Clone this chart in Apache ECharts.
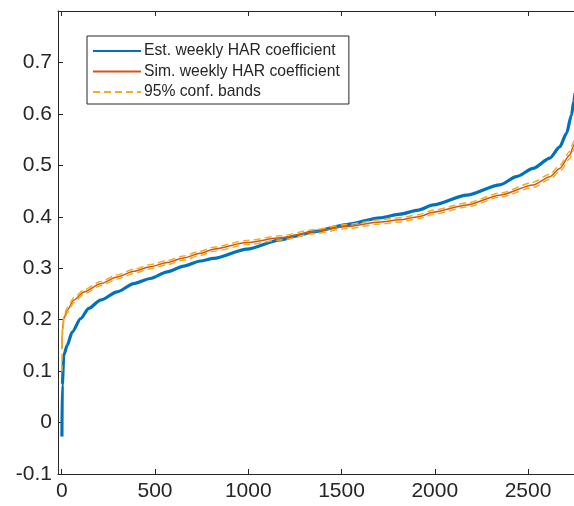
<!DOCTYPE html>
<html>
<head>
<meta charset="utf-8">
<script src="https://cdn.jsdelivr.net/npm/echarts@6/dist/echarts.min.js"></script>
<style>
  html, body { margin: 0; padding: 0; background: #fff; overflow: hidden; }
  #chart { width: 600px; height: 506px; }
</style>
</head>
<body>
<div id="chart"></div>
<script>
// Sorted estimated weekly HAR coefficients (rank index, value)
const estIndex = [1, 3, 11, 29, 56, 101, 145, 208, 297, 386, 475, 565, 654, 743, 814, 993, 1171, 1261, 1350, 1528, 1707, 1814, 1912, 1992, 2171, 2349, 2438, 2527, 2617, 2670, 2706, 2733, 2745, 2752];
const estValues = [-0.027, 0.073, 0.131, 0.150, 0.176, 0.202, 0.222, 0.238, 0.254, 0.270, 0.280, 0.293, 0.304, 0.314, 0.319, 0.337, 0.355, 0.363, 0.371, 0.385, 0.398, 0.405, 0.413, 0.423, 0.442, 0.462, 0.478, 0.494, 0.514, 0.536, 0.562, 0.598, 0.624, 0.640];

// Simulated weekly HAR coefficient and its 95% confidence bands
const simIndex = [1, 3, 11, 29, 65, 119, 208, 297, 386, 475, 565, 654, 743, 814, 993, 1171, 1350, 1528, 1707, 1814, 1912, 1992, 2171, 2349, 2527, 2617, 2670, 2724, 2742, 2752];
const simValues = [0.144, 0.176, 0.202, 0.218, 0.238, 0.254, 0.270, 0.283, 0.294, 0.303, 0.311, 0.320, 0.329, 0.337, 0.350, 0.359, 0.371, 0.381, 0.390, 0.394, 0.400, 0.409, 0.423, 0.442, 0.462, 0.478, 0.494, 0.520, 0.536, 0.546];
const bandUpper = [0.150, 0.183, 0.207, 0.223, 0.243, 0.258, 0.274, 0.287, 0.298, 0.307, 0.315, 0.324, 0.333, 0.341, 0.354, 0.363, 0.375, 0.385, 0.394, 0.398, 0.404, 0.413, 0.427, 0.446, 0.467, 0.483, 0.500, 0.527, 0.544, 0.555];
const bandLower = [0.099, 0.165, 0.196, 0.213, 0.233, 0.250, 0.266, 0.279, 0.290, 0.299, 0.307, 0.316, 0.325, 0.333, 0.346, 0.355, 0.367, 0.377, 0.386, 0.390, 0.396, 0.405, 0.419, 0.438, 0.457, 0.473, 0.488, 0.513, 0.528, 0.537];

// Axis ticks
const xTicks = [0, 500, 1000, 1500, 2000, 2500];
const yTicks = [-0.1, 0, 0.1, 0.2, 0.3, 0.4, 0.5, 0.6, 0.7];

const pair = (xs, ys) => xs.map((x, i) => [x, ys[i]]);

const axisColor = '#262626';
const font = 'Liberation Sans, Arial, Helvetica, sans-serif';

const chart = echarts.init(document.getElementById('chart'), null, { renderer: 'canvas' });

const lineBase = { type: 'line', showSymbol: false, symbol: 'none', smooth: 0.25, smoothMonotone: 'x', animation: false };

chart.setOption({
  animation: false,
  backgroundColor: '#fff',
  grid: { left: 58, right: 16, top: 11, bottom: 32, show: false },
  legend: {
    left: 87, top: 36,
    orient: 'vertical',
    itemWidth: 48, itemHeight: 14, itemGap: 4.5,
    padding: [7, 9, 4, 5],
    backgroundColor: '#fff',
    borderColor: axisColor, borderWidth: 1, borderRadius: 0,
    itemStyle: { opacity: 0, borderWidth: 0 },
    textStyle: { fontFamily: font, fontSize: 15.7, color: axisColor, padding: [0, 0, 0, -2] },
    data: ['Est. weekly HAR coefficient', 'Sim. weekly HAR coefficient', '95% conf. bands']
  },
  xAxis: [
    {
      type: 'value', min: -20, max: 2800, position: 'bottom',
      splitLine: { show: false },
      axisLine: { show: true, onZero: false, lineStyle: { color: axisColor, width: 1 } },
      axisTick: { show: true, inside: true, length: 5, customValues: xTicks, lineStyle: { color: axisColor } },
      axisLabel: {
        customValues: xTicks, margin: 7, fontFamily: font, fontSize: 21, color: axisColor,
        formatter: v => String(Math.round(v))
      }
    },
    {
      type: 'value', min: -20, max: 2800, position: 'top',
      splitLine: { show: false },
      axisLine: { show: true, onZero: false, lineStyle: { color: axisColor, width: 1 } },
      axisTick: { show: true, inside: true, length: 5, customValues: xTicks, lineStyle: { color: axisColor } },
      axisLabel: { show: false }
    }
  ],
  yAxis: [
    {
      type: 'value', min: -0.1, max: 0.8, position: 'left',
      splitLine: { show: false },
      axisLine: { show: true, onZero: false, lineStyle: { color: axisColor, width: 1 } },
      axisTick: { show: true, inside: true, length: 5, customValues: yTicks, lineStyle: { color: axisColor } },
      axisLabel: {
        customValues: yTicks, margin: 6, fontFamily: font, fontSize: 21, color: axisColor,
        formatter: v => (Math.round(v * 10) / 10).toString()
      }
    }
  ],
  series: [
    Object.assign({}, lineBase, {
      name: 'Est. weekly HAR coefficient',
      data: pair(estIndex, estValues),
      lineStyle: { color: '#0072BD', width: 3.2 },
      itemStyle: { color: '#0072BD' },
      z: 2
    }),
    Object.assign({}, lineBase, {
      name: 'Sim. weekly HAR coefficient',
      data: pair(simIndex, simValues),
      lineStyle: { color: '#D95319', width: 1.5 },
      itemStyle: { color: '#D95319' },
      z: 3
    }),
    Object.assign({}, lineBase, {
      name: '95% conf. bands',
      data: pair(simIndex, bandUpper),
      lineStyle: { color: '#EDB120', width: 1.5, type: [7, 4] },
      itemStyle: { color: '#EDB120' },
      z: 4
    }),
    Object.assign({}, lineBase, {
      name: '95% conf. bands',
      data: pair(simIndex, bandLower),
      lineStyle: { color: '#EDB120', width: 1.5, type: [7, 4] },
      itemStyle: { color: '#EDB120' },
      z: 4
    })
  ]
});
</script>
</body>
</html>
